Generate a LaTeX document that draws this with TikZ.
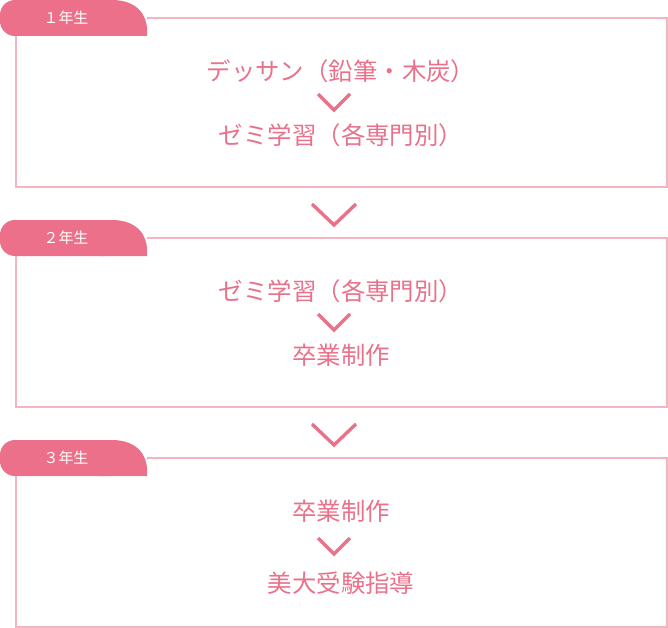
\documentclass[tikz,border=0pt]{standalone}
\usepackage{fontspec}
\newfontfamily\jp{Noto Sans CJK JP}
\usepackage{tikz}

\definecolor{tabpink}{HTML}{EC7089}
\definecolor{txtpink}{HTML}{E9718A}
\definecolor{linepink}{HTML}{F3B5C1}

\begin{document}
\begin{tikzpicture}[x=1bp, y=-1bp, every node/.style={inner sep=0pt, text=txtpink, font=\jp\fontsize{24.5}{24.5}\selectfont}, tabtext/.style={text=white, font=\jp\fontsize{15}{15}\selectfont}, boxline/.style={draw=linepink, line width=1.2bp}, chev/.style={draw=txtpink, line width=3.4bp}]
			\useasboundingbox (0,0) rectangle (668,628);
			
			% 1st year
			\fill[tabpink, rounded corners=15] (0,0) rectangle (120,36);
			\fill[tabpink] (100,0) -- (112,0) .. controls (136,0) and (147,14) .. (147,30) -- (147,36) -- (100,36) -- cycle;
			\draw[boxline] (147,18) -- (667,18) -- (667,187) -- (16,187) -- (16,36);
			\node[tabtext] (y1) at (66,18) {１年生};
			\node (a1) at (341,71) {デッサン（鉛筆・木炭）};
			\node (a2) at (341,135) {ゼミ学習（各専門別）};
			\coordinate (v1) at (334,110);
			\draw[chev] ([shift={(-16,-16)}]v1) -- (v1) -- ([shift={(16,-16)}]v1);
			
			\coordinate (w1) at (334,225);
			\draw[chev] ([shift={(-22,-21)}]w1) -- (w1) -- ([shift={(22,-21)}]w1);
			
			% 2nd year
			\fill[tabpink, rounded corners=15] (0,220) rectangle (120,256);
			\fill[tabpink] (100,220) -- (112,220) .. controls (136,220) and (147,234) .. (147,250) -- (147,256) -- (100,256) -- cycle;
			\draw[boxline] (147,238) -- (667,238) -- (667,407) -- (16,407) -- (16,256);
			\node[tabtext] (y2) at (66,238) {２年生};
			\node (b1) at (341,291) {ゼミ学習（各専門別）};
			\node (b2) at (341,355) {卒業制作};
			\coordinate (v2) at (334,330);
			\draw[chev] ([shift={(-16,-16)}]v2) -- (v2) -- ([shift={(16,-16)}]v2);
			
			\coordinate (w2) at (334,445);
			\draw[chev] ([shift={(-22,-21)}]w2) -- (w2) -- ([shift={(22,-21)}]w2);
			
			% 3rd year
			\fill[tabpink, rounded corners=15] (0,440) rectangle (120,476);
			\fill[tabpink] (100,440) -- (112,440) .. controls (136,440) and (147,454) .. (147,470) -- (147,476) -- (100,476) -- cycle;
			\draw[boxline] (147,458) -- (667,458) -- (667,627) -- (16,627) -- (16,476);
			\node[tabtext] (y3) at (66,458) {３年生};
			\node (c1) at (341,511) {卒業制作};
			\node (c2) at (341,583) {美大受験指導};
			\coordinate (v3) at (334,554);
			\draw[chev] ([shift={(-16,-16)}]v3) -- (v3) -- ([shift={(16,-16)}]v3);
			\end{tikzpicture}
\end{document}
